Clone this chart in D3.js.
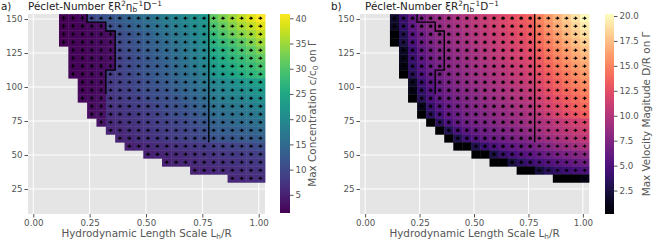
<!DOCTYPE html>
<html><head><meta charset="utf-8">
<script src="https://cdn.jsdelivr.net/npm/d3@7"></script>
<style>body{margin:0;background:#fff;} svg{display:block;font-family:"DejaVu Sans",sans-serif;}</style>
</head><body><svg id="c" width="664" height="249"></svg>
<script>
// ---- grid (cell edges) ----
const xEdges = [0.114,0.1556,0.1971,0.2387,0.2802,0.3218,0.3633,0.4049,0.4464,0.488,0.5295,0.5711,0.6126,0.6542,0.6957,0.7373,0.7788,0.8204,0.8619,0.9035,0.945,0.9866,1.028];
const yEdges = [153.6,147.7,141.8,135.9,130.0,124.1,118.3,112.4,106.5,100.6,94.7,88.8,82.9,77.0,71.1,65.2,59.4,53.5,47.6,41.7,35.8,29.9]; // top -> bottom
const rowStart = [0,0,0,0,1,1,1,1,2,2,2,3,3,4,5,6,7,9,11,14,18];

// ---- panel a: max concentration (rows top -> bottom, cols rowStart..21) ----
const concentration = [
 [1.5,1.8,2.2,10,11,12,13,14,15,16,17,18,19,20,21,22,31,33,35,37,39,41],
 [1.5,1.8,2,2.3,2.6,11,12,13,14,15,16,17,18,19,20.5,21.5,29.5,31.5,33.5,35.5,37,39],
 [1.5,1.8,2,2.2,2.5,2.8,10.5,11.5,12.5,13.5,15,16,17,18,19.5,21,28,30,32,33.5,35,37],
 [1.5,1.8,2,2.2,2.5,2.8,10,11,12,13,14,15,16.5,17.5,19,20.5,26.5,28,29.5,31,33,35],
 [1.8,2,2.2,2.5,2.8,9.5,10.5,11.5,12.5,13.5,14.5,15.5,17,18.5,20,25,26.5,28,29.5,31,33],
 [1.8,2,2.2,2.5,2.8,9,10,11,12,13,14,15,16.5,18,19.5,24,25.5,27,28,29.5,31],
 [1.8,2,2.2,2.5,2.8,9,10,11,12,12.5,13.5,14.5,16,17.5,19,23,24.5,25.5,27,28,29.5],
 [1.8,2,2.3,2.6,8.5,9,10,11,12,12.5,13.5,14.5,15.5,16.5,18,22,23,24.5,25.5,27,28],
 [2,2.3,2.6,8,8.5,9.5,10,11,12,12.5,13.5,14.5,15.5,17,19,20,21,22,23,24],
 [2,2.3,2.6,8,8.5,9,10,10.5,11,12,13,14,15,16,18,19,20,20.5,21.5,22.5],
 [2.2,2.5,2.8,7.5,8,8.5,9,10,10.5,11,12,13,14,15,17,18,18.5,19,20,21],
 [2.5,3,7,7.5,8,8.5,9,10,10.5,11,12,13,14,16,16.5,17,17.5,18,19],
 [2.8,3.2,6.5,7,7.5,8,8.5,9,10,10.5,11,12,13,15,15.5,16,16.5,17,17.5],
 [3.5,6,6.5,7,7.5,8,8.5,9,9.5,10,11,12,13.5,14,14.5,15,15.5,16],
 [5.5,6,6.5,7,7.5,8,8.5,9,9.5,10,11,12.5,13,13,13.5,14,14.5],
 [5.5,6,6.5,7,7.5,8,8.5,9,9.5,10,11.5,12,12,12.5,12.5,13],
 [5,5.5,6,6.3,6.6,7,7.3,7.6,8,8.5,9,9.3,9.6,10,10.5],
 [5,5.3,5.6,6,6.3,6.6,7,7.3,7.6,8,8.3,8.6,9],
 [5,5.3,5.6,6,6.3,6.6,6.9,7.2,7.5,7.8,8],
 [5.2,5.5,5.8,6.1,6.4,6.7,7,7.2],
 [5.8,6.1,6.4,6.7]
];
// arrow direction per cell: u = up, l = left, r = right
const arrowsA = [
 "uuulllllllllllllrrrrrr",
 "uuuuulllllllllllrrrrrr",
 "uuuuuullllllllllrrrrrr",
 "uuuuuullllllllllrrrrrr",
 "uuuuullllllllllrrrrrr",
 "uuuuullllllllllrrrrrr",
 "uuuuullllllllllrrrrrr",
 "uuuulllllllllllrrrrrr",
 "uuurrrrrrrrrrrrrrrrr",
 "uuurrrrrrrrrrrrrrrrr",
 "uuurrrrrrrrrrrrrrrrr",
 "uurrrrrrrrrrrrrrrrr",
 "uurrrrrrrrrrrrrrrrr",
 "urrrrrrrrrrrrrrrrr",
 "rrrrrrrrrrrrrrrrr",
 "rrrrrrrrrrrrrrrr",
 "rrrrrrrrrrrrrrr",
 "rrrrrrrrrrrrr",
 "rrrrrrrrrrr",
 "rrrrrrrr",
 "rrrr"
];

// ---- panel b: max velocity magnitude ----
const velocity = [
 [1.8,4,6,7,8,8.5,9,9.5,10,10.5,11,11.5,12,12.5,13,13.5,15,16,17,18,19,20],
 [1.5,3.8,5.8,7,7.8,8.3,8.8,9.3,9.8,10.3,10.8,11.3,11.8,12.3,12.8,13.3,14.7,15.7,16.7,17.6,18.5,19.4],
 [0.2,3.2,5.4,6.6,7.5,8,8.5,9,9.5,10,10.5,11,11.5,12,12.5,13,14.3,15.3,16.2,17.1,18,18.8],
 [0.1,2.8,5,6.3,7.2,7.8,8.3,8.8,9.3,9.8,10.3,10.8,11.3,11.8,12.2,12.7,14,14.9,15.8,16.6,17.4,18.2],
 [1.5,4.2,5.8,6.8,7.5,8,8.5,9,9.5,10,10.5,11,11.5,11.9,12.4,13.6,14.5,15.3,16.1,16.9,17.6],
 [1.2,4,5.6,6.6,7.3,7.8,8.3,8.8,9.3,9.8,10.2,10.7,11.2,11.6,12.1,13.2,14.1,14.9,15.6,16.4,17],
 [0.8,3.7,5.3,6.4,7.1,7.6,8.1,8.6,9.1,9.5,10,10.4,10.9,11.3,11.8,12.9,13.7,14.5,15.2,15.9,16.5],
 [0.1,3.3,5,6.1,6.8,7.4,7.9,8.4,8.8,9.3,9.7,10.1,10.6,11,11.5,12.5,13.3,14,14.7,15.4,16],
 [1.5,4.2,5.5,6.4,7,7.6,8.1,8.5,9,9.4,9.8,10.3,10.7,11.1,12.1,12.9,13.6,14.3,14.9,15.5],
 [1,3.8,5.2,6.1,6.8,7.3,7.8,8.2,8.7,9.1,9.5,9.9,10.3,10.7,11.7,12.5,13.2,13.8,14.4,15],
 [0.1,3.3,4.9,5.8,6.5,7,7.5,7.9,8.4,8.8,9.2,9.6,10,10.4,11.3,12,12.7,13.3,13.9,14.5],
 [1.2,4,5.3,6.1,6.7,7.2,7.6,8,8.4,8.8,9.2,9.6,10,10.9,11.6,12.2,12.8,13.4,14],
 [0.1,3.4,4.9,5.8,6.4,6.9,7.3,7.7,8.1,8.5,8.9,9.2,9.6,10.4,11.1,11.7,12.3,12.9,13.4],
 [0.1,3.5,5,5.9,6.5,6.9,7.3,7.7,8.1,8.5,8.8,9.2,9.6,10,10.5,11,11.4,11.8],
 [0.1,3.2,4.7,5.6,6.2,6.6,7,7.4,7.8,8.1,8.5,9.2,9.7,10.1,10.5,10.9,11.2],
 [0.1,3,4.4,5.3,5.9,6.3,6.7,7.1,7.4,7.8,8.5,9,9.4,9.8,10.2,10.5],
 [0.1,0.3,3,4.2,5,5.6,6,6.4,6.8,7.3,7.8,8.3,8.8,9.2,9.6],
 [0.1,0.3,2.8,4,4.8,5.3,5.7,6.1,6.5,6.9,7.3,7.7,8],
 [0.1,0.2,2.5,3.6,4.3,4.8,5.2,5.6,6,6.3,6.6],
 [0.1,0.2,2.3,3.3,3.9,4.3,4.7,5],
 [0.1,0.2,0.3,1]
];
// d = dot (near-zero vector), r = right
const arrowsB = [
 "ddddddddddddddddrrrrrr","ddddddddddddddddrrrrrr","ddddddddddddddddrrrrrr","ddddddddddddddddrrrrrr",
 "dddddddddddddddrrrrrr","dddddddddddddddrrrrrr","dddddddddddddddrrrrrr","dddddddddddddddrrrrrr",
 "ddddddddddddddrrrrrr","ddddddddddddddrrrrrr","ddddddddddddddrrrrrr",
 "dddddddddddddrrrrrr","dddddddddddddrrrrrr","ddddddddddddrrrrrr","dddddddddddrrrrrr",
 "ddddddddddrrrrrr","dddddddddrrrrrr","dddddddrrrrrr","dddddrrrrrr","ddrrrrrr","rrrr"
];

// ---- contour lines (data coords) ----
const stairX = [0.2387,0.2387,0.3218,0.3218,0.3633,0.3633,0.3218,0.3218];
const stairY = [153.6,147.7,147.7,141.2,141.2,112.4,112.4,94.7];
const vertX = [0.7788,0.7788];
const vertY = [153.6,59.4];

// ---- ticks ----
const xTicks = [0,0.25,0.5,0.75,1.0];
const yTicks = [25,50,75,100,125,150];
const cTicksA = [5,10,15,20,25,30,35,40];
const cTicksB = [2.5,5,7.5,10,12.5,15,17.5,20];

const xDomain = [-0.0235,1.028];
const yDomain = [6.6,153.7];
const TOP = 14, BOT = 214;
const svg = d3.select('#c');
const tickCol = '#555555';

function arrowPath(dir){
  const p = [[-2.0,-0.5],[-0.5,-0.5],[-0.5,-1.9],[2.3,0],[-0.5,1.9],[-0.5,0.5],[-2.0,0.5]];
  const ang = {r:0,u:-Math.PI/2,l:Math.PI,d:Math.PI/2}[dir];
  const c=Math.cos(ang), s=Math.sin(ang);
  return 'M'+p.map(q=>[(q[0]*c-q[1]*s).toFixed(2),(q[0]*s+q[1]*c).toFixed(2)].join(',')).join('L')+'Z';
}

function panel(cfg){
  const g = svg.append('g');
  const x = d3.scaleLinear().domain(xDomain).range([cfg.left,cfg.right]);
  const y = d3.scaleLinear().domain(yDomain).range([BOT,TOP]);
  g.append('rect').attr('x',cfg.left).attr('y',TOP).attr('width',cfg.right-cfg.left).attr('height',BOT-TOP).attr('fill','#e5e5e5');
  xTicks.forEach(t=>g.append('line').attr('x1',x(t)).attr('x2',x(t)).attr('y1',TOP).attr('y2',BOT).attr('stroke','#fff').attr('stroke-width',1));
  yTicks.forEach(t=>g.append('line').attr('y1',y(t)).attr('y2',y(t)).attr('x1',cfg.left).attr('x2',cfg.right).attr('stroke','#fff').attr('stroke-width',1));
  const color = d3.scaleSequential(cfg.interp).domain(cfg.cdom);
  const cells = [];
  cfg.values.forEach((row,j)=>row.forEach((v,k)=>{
    const col = rowStart[j]+k;
    cells.push({x0:xEdges[col],x1:xEdges[col+1],y0:yEdges[j],y1:yEdges[j+1],v,dir:cfg.arrows[j][k]});
  }));
  g.selectAll('rect.cell').data(cells).enter().append('rect').attr('class','cell')
    .attr('x',d=>x(d.x0)).attr('y',d=>y(d.y0))
    .attr('width',d=>x(d.x1)-x(d.x0)+0.4).attr('height',d=>y(d.y1)-y(d.y0)+0.4)
    .attr('fill',d=>color(d.v));
  const line = d3.line().x(d=>x(d[0])).y(d=>y(d[1]));
  g.append('path').attr('d',line(stairX.map((v,i)=>[v,stairY[i]]))).attr('fill','none').attr('stroke','#000').attr('stroke-width',1.4);
  g.append('path').attr('d',line(vertX.map((v,i)=>[v,vertY[i]]))).attr('fill','none').attr('stroke','#000').attr('stroke-width',1.4);
  g.selectAll('g.mk').data(cells).enter().append('g').attr('class','mk')
    .attr('transform',d=>`translate(${x((d.x0+d.x1)/2)},${y((d.y0+d.y1)/2)})`)
    .each(function(d){
      const s = d3.select(this);
      if(d.dir==='d') s.append('circle').attr('r',1.7).attr('fill','#000');
      else s.append('path').attr('d',arrowPath(d.dir)).attr('fill','#000');
    });
  // axes
  const ax = g.append('g').attr('transform',`translate(0,${BOT})`)
    .call(d3.axisBottom(x).tickValues(xTicks).tickFormat(d3.format('.2f')).tickSize(3.5).tickPadding(2.3));
  const ay = g.append('g').attr('transform',`translate(${cfg.left},0)`)
    .call(d3.axisLeft(y).tickValues(yTicks).tickSize(3.5).tickPadding(2));
  [ax,ay].forEach(a=>{a.select('.domain').remove(); a.selectAll('line').attr('stroke',tickCol);
    a.selectAll('text').attr('fill',tickCol).style('font-size','8.7px').style('font-family','DejaVu Sans');});
  // x label
  const xl = g.append('text').attr('x',(cfg.left+cfg.right)/2).attr('y',237).attr('text-anchor','middle')
    .attr('fill',tickCol).style('font-size','10.4px');
  xl.append('tspan').text('Hydrodynamic Length Scale L');
  xl.append('tspan').attr('dy',2.2).style('font-size','7.3px').text('h');
  xl.append('tspan').attr('dy',-2.2).text('/R');
  // title
  g.append('text').attr('x',cfg.tagX).attr('y',10).style('font-size','10.4px').attr('fill','#222').text(cfg.tag);
  const tt = g.append('text').attr('x',cfg.titleX).attr('y',10).style('font-size','10.4px').attr('fill','#222');
  tt.append('tspan').text('Péclet-Number ξR');
  tt.append('tspan').attr('dy',-4).style('font-size','7.3px').text('2');
  tt.append('tspan').attr('dy',4).text('η');
  tt.append('tspan').attr('dy',2.4).style('font-size','7.3px').text('b');
  tt.append('tspan').attr('dx',-4.6).attr('dy',-6.6).style('font-size','7.3px').text('−1');
  tt.append('tspan').attr('dy',4.2).text('D');
  tt.append('tspan').attr('dy',-4).style('font-size','7.3px').text('−1');
  // colorbar
  const cs = d3.scaleLinear().domain(cfg.cdom).range([cfg.cbBot,TOP]);
  const gid = 'grad'+cfg.tag.replace(')','');
  const grad = svg.append('defs').append('linearGradient').attr('id',gid).attr('x1',0).attr('x2',0).attr('y1',1).attr('y2',0);
  d3.range(0,1.0001,0.05).forEach(t=>grad.append('stop').attr('offset',t).attr('stop-color',cfg.interp(t)));
  g.append('rect').attr('x',cfg.cbX).attr('y',TOP).attr('width',cfg.cbW).attr('height',cfg.cbBot-TOP).attr('fill',`url(#${gid})`);
  const ac = g.append('g').attr('transform',`translate(${cfg.cbX+cfg.cbW},0)`)
    .call(d3.axisRight(cs).tickValues(cfg.cticks).tickFormat(cfg.cfmt).tickSize(3.5).tickPadding(2));
  ac.select('.domain').remove(); ac.selectAll('line').attr('stroke',tickCol);
  ac.selectAll('text').attr('fill',tickCol).style('font-size','8.7px').style('font-family','DejaVu Sans');
  const cl = g.append('text').attr('transform',`translate(${cfg.cbLabelX},${(TOP+cfg.cbBot)/2}) rotate(-90)`)
    .attr('text-anchor','middle').attr('fill',tickCol).style('font-size','10.4px');
  cfg.cbLabel(cl);
}

panel({left:28,right:265,values:concentration,arrows:arrowsA,interp:d3.interpolateViridis,cdom:[1.4,40.85],
  cbX:280,cbW:10,cbBot:213,cticks:cTicksA,cfmt:d3.format('d'),cbLabelX:316,tag:'a)',tagX:1,titleX:28,
  cbLabel:t=>{t.append('tspan').text('Max Concentration c/c');t.append('tspan').attr('dy',2.2).style('font-size','7.3px').text('0');t.append('tspan').attr('dy',-2.2).text(' on Γ');}});
panel({left:360,right:589,values:velocity,arrows:arrowsB,interp:d3.interpolateMagma,cdom:[0.15,20.2],
  cbX:605,cbW:9,cbBot:214,cticks:cTicksB,cfmt:d3.format('.1f'),cbLabelX:650,tag:'b)',tagX:331,titleX:365,
  cbLabel:t=>{t.text('Max Velocity Magitude D/R on Γ');}});
</script></body></html>
